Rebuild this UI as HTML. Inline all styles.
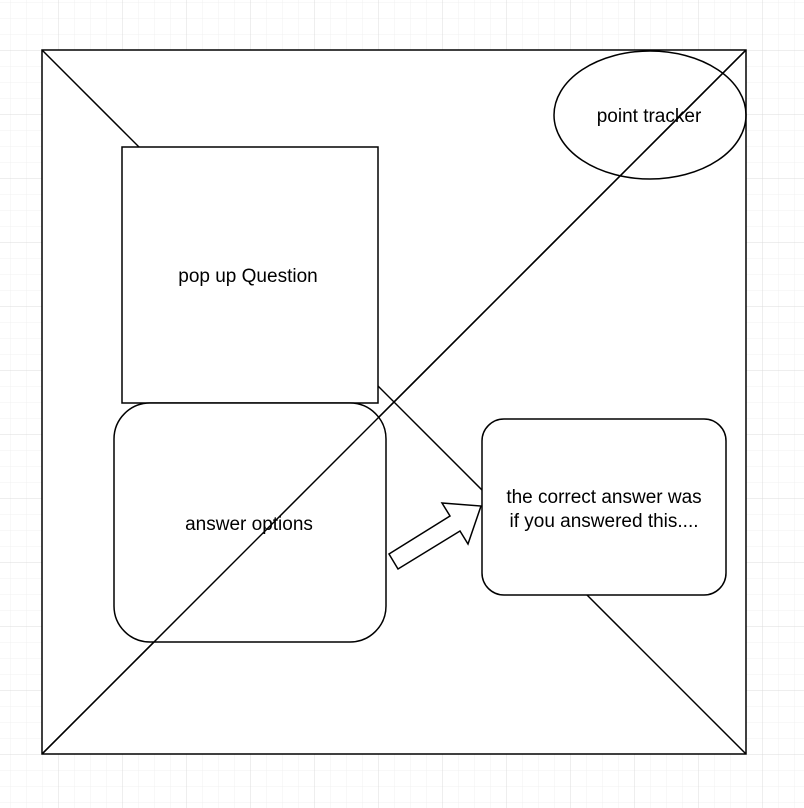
<!DOCTYPE html><html><head><style>body{margin:0;background:#fff}svg{display:block}</style></head><body>
<svg width="804" height="808" xmlns="http://www.w3.org/2000/svg" font-family="Liberation Sans, sans-serif" font-size="19">
<defs>
<pattern id="g" x="10" y="2" width="16" height="16" patternUnits="userSpaceOnUse"><path d="M0 0H16M0 0V16" stroke="#f1f1f1" stroke-width="1" fill="none"/></pattern>
<pattern id="G" x="58" y="50" width="64" height="64" patternUnits="userSpaceOnUse"><path d="M0 0H64M0 0V64" stroke="#dcdcdc" stroke-width="1" fill="none"/></pattern>
</defs>
<rect width="804" height="808" fill="url(#g)"/>
<rect width="804" height="808" fill="url(#G)"/>
<g stroke="#000" stroke-width="1.5">
<rect x="42" y="50" width="704" height="704" fill="#fff"/>
<line x1="42" y1="50" x2="746" y2="754"/>
<line x1="42" y1="754" x2="746" y2="50"/>
<rect x="122" y="147" width="256" height="256" fill="#fff"/>
<rect x="114" y="403" width="272" height="239" rx="36" fill="#fff"/>
<rect x="482" y="419" width="244" height="176" rx="22" fill="#fff"/>
<ellipse cx="650" cy="115" rx="96" ry="64" fill="none"/>
<polygon points="389,554 398,569 460,531 468,544 481,506 442,503 450,516" fill="#fff"/>
</g>
<line x1="42" y1="754" x2="746" y2="50" stroke="#000" stroke-width="1.5"/>
<g text-anchor="middle" fill="#000">
<text x="248" y="282">pop up Question</text>
<text x="249" y="530">answer options</text>
<text x="604" y="503">the correct answer was</text>
<text x="604" y="527">if you answered this....</text>
<text x="649" y="122">point tracker</text>
</g>
</svg></body></html>
